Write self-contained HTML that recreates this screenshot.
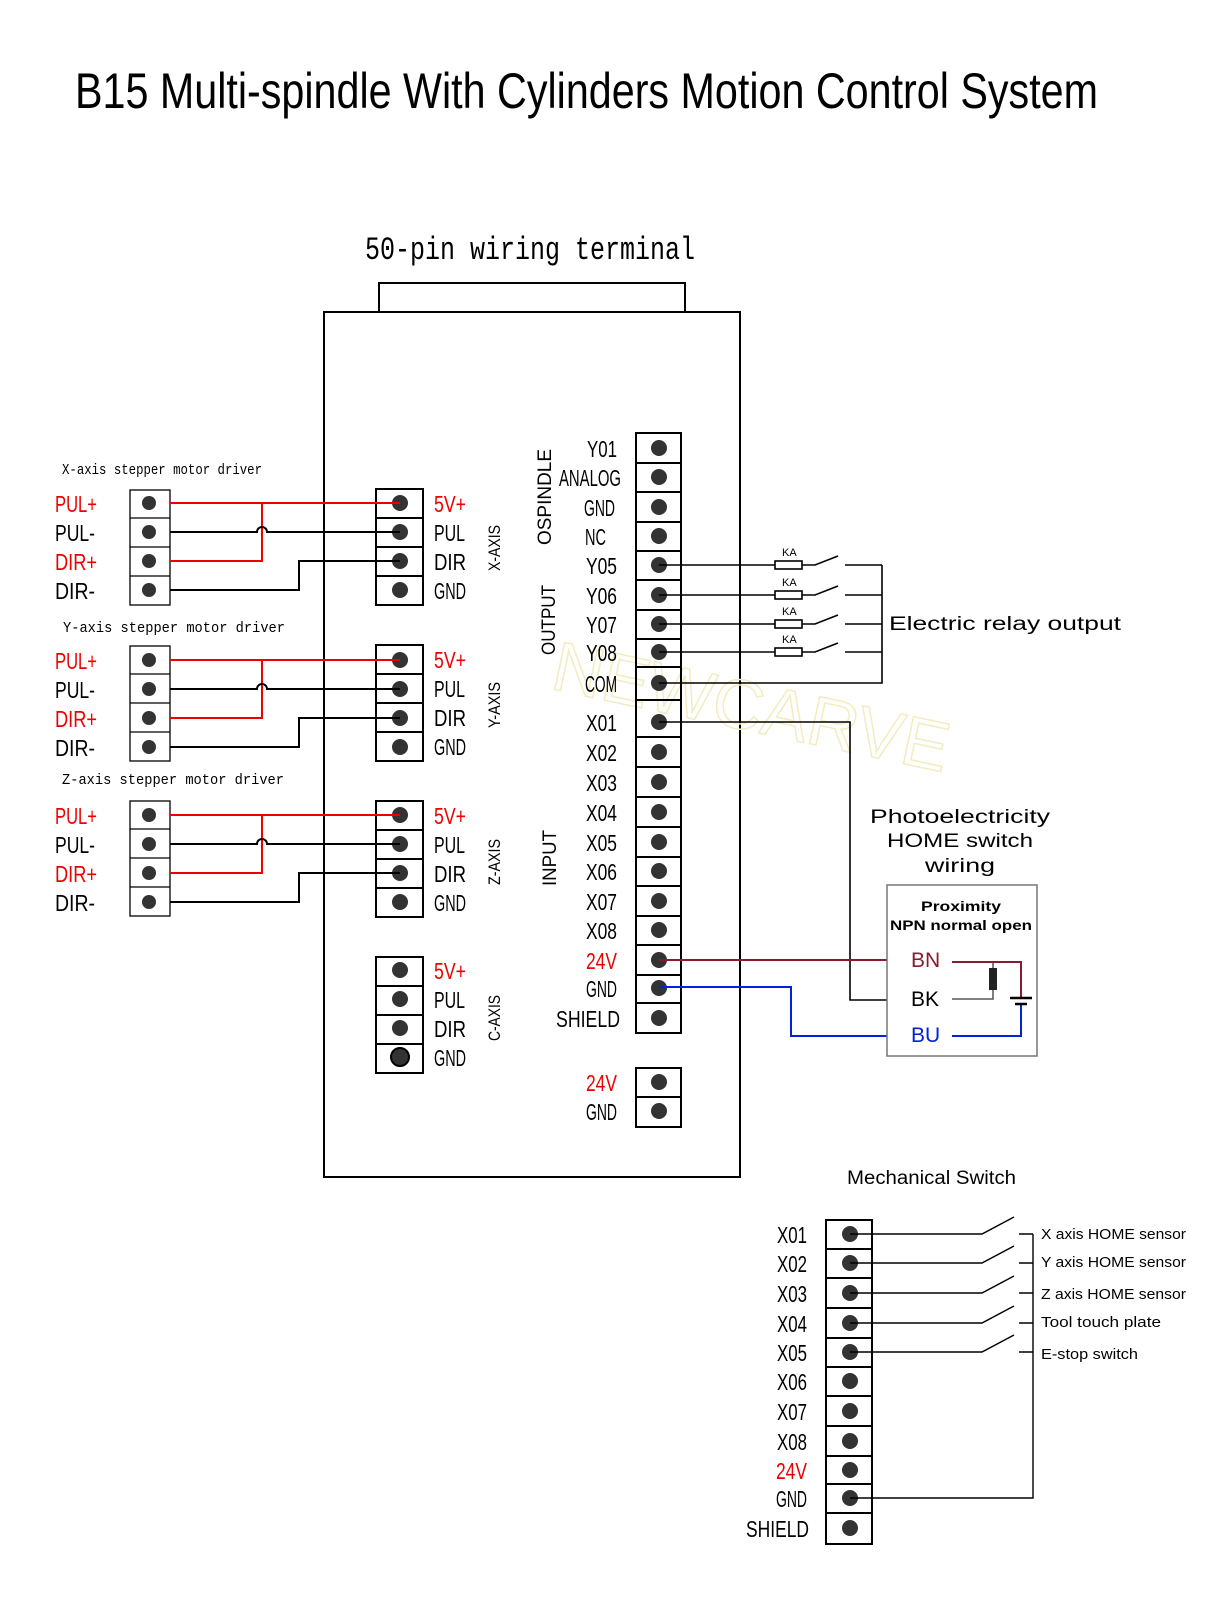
<!DOCTYPE html>
<html><head><meta charset="utf-8"><style>
html,body{margin:0;padding:0;background:#fff;}
svg{display:block;}
text{font-family:"Liberation Sans Narrow","Liberation Sans",sans-serif;}
.m{font-family:"Liberation Mono",monospace;}
.s{font-family:"Liberation Sans",sans-serif;}
</style></head><body>
<svg width="1219" height="1604" viewBox="0 0 1219 1604" xmlns="http://www.w3.org/2000/svg">
<text x="75" y="108" font-size="50" textLength="1023" lengthAdjust="spacingAndGlyphs" fill="#000">B15 Multi-spindle With Cylinders Motion Control System</text>
<text class="m" x="365" y="259" font-size="32" textLength="330" lengthAdjust="spacingAndGlyphs">50-pin wiring terminal</text>
<g fill="none" stroke="#000" stroke-width="2">
<rect x="379" y="283" width="306" height="29"/>
<rect x="324" y="312" width="416" height="865"/>
</g>
<text x="550" y="720" font-size="70" fill="none" stroke="#f3ecc0" stroke-width="1.5" transform="rotate(12 700 700)">NEWCARVE</text>

<text class="m" x="62" y="474" font-size="15" textLength="200" lengthAdjust="spacingAndGlyphs">X-axis stepper motor driver</text>
<text class="m" x="63" y="632" font-size="15" textLength="222" lengthAdjust="spacingAndGlyphs">Y-axis stepper motor driver</text>
<text class="m" x="62" y="784" font-size="15" textLength="222" lengthAdjust="spacingAndGlyphs">Z-axis stepper motor driver</text>
<g fill="none" stroke="#000" stroke-width="1.3">
<rect x="130" y="490" width="40" height="115"/><path d="M130 518H170M130 547H170M130 576H170"/>
<rect x="130" y="646" width="40" height="115"/><path d="M130 674H170M130 703H170M130 732H170"/>
<rect x="130" y="801" width="40" height="115"/><path d="M130 829H170M130 858H170M130 887H170"/>
</g>
<g fill="none" stroke="#000" stroke-width="2">
<rect x="376" y="489" width="47" height="116"/><path d="M376 518H423M376 547H423M376 576H423"/>
<rect x="376" y="645" width="47" height="116"/><path d="M376 674H423M376 703H423M376 732H423"/>
<rect x="376" y="801" width="47" height="116"/><path d="M376 830H423M376 859H423M376 888H423"/>
<rect x="376" y="957" width="47" height="116"/><path d="M376 986H423M376 1015H423M376 1044H423"/>
</g>
<g fill="#333">
<circle cx="149" cy="503" r="7"/><circle cx="149" cy="532" r="7"/><circle cx="149" cy="561" r="7"/><circle cx="149" cy="590" r="7"/>
<circle cx="149" cy="660" r="7"/><circle cx="149" cy="689" r="7"/><circle cx="149" cy="718" r="7"/><circle cx="149" cy="747" r="7"/>
<circle cx="149" cy="815" r="7"/><circle cx="149" cy="844" r="7"/><circle cx="149" cy="873" r="7"/><circle cx="149" cy="902" r="7"/>
<circle cx="400" cy="503" r="8"/><circle cx="400" cy="532" r="8"/><circle cx="400" cy="561" r="8"/><circle cx="400" cy="590" r="8"/>
<circle cx="400" cy="660" r="8"/><circle cx="400" cy="689" r="8"/><circle cx="400" cy="718" r="8"/><circle cx="400" cy="747" r="8"/>
<circle cx="400" cy="815" r="8"/><circle cx="400" cy="844" r="8"/><circle cx="400" cy="873" r="8"/><circle cx="400" cy="902" r="8"/>
<circle cx="400" cy="970" r="8"/><circle cx="400" cy="999" r="8"/><circle cx="400" cy="1028" r="8"/><circle cx="400" cy="1057" r="9" stroke="#000" stroke-width="2"/>
</g>
<g fill="none" stroke-width="2">
<g stroke="#e00">
<path d="M170 503H400M170 561H262V503"/>
<path d="M170 660H400M170 718H262V660"/>
<path d="M170 815H400M170 873H262V815"/>
</g>
<g stroke="#000">
<path d="M170 532H257A5 5 0 0 1 267 532H400M170 590H299V561H400"/>
<path d="M170 689H257A5 5 0 0 1 267 689H400M170 747H299V718H400"/>
<path d="M170 844H257A5 5 0 0 1 267 844H400M170 902H299V873H400"/>
</g>
</g>
<g font-size="23" lengthAdjust="spacingAndGlyphs">
<g fill="#e00">
<text x="55" y="512" textLength="42" lengthAdjust="spacingAndGlyphs">PUL+</text><text x="55" y="570" textLength="42" lengthAdjust="spacingAndGlyphs">DIR+</text>
<text x="55" y="669" textLength="42" lengthAdjust="spacingAndGlyphs">PUL+</text><text x="55" y="727" textLength="42" lengthAdjust="spacingAndGlyphs">DIR+</text>
<text x="55" y="824" textLength="42" lengthAdjust="spacingAndGlyphs">PUL+</text><text x="55" y="882" textLength="42" lengthAdjust="spacingAndGlyphs">DIR+</text>
</g>
<text x="55" y="541" textLength="40" lengthAdjust="spacingAndGlyphs">PUL-</text><text x="55" y="599" textLength="40" lengthAdjust="spacingAndGlyphs">DIR-</text>
<text x="55" y="698" textLength="40" lengthAdjust="spacingAndGlyphs">PUL-</text><text x="55" y="756" textLength="40" lengthAdjust="spacingAndGlyphs">DIR-</text>
<text x="55" y="853" textLength="40" lengthAdjust="spacingAndGlyphs">PUL-</text><text x="55" y="911" textLength="40" lengthAdjust="spacingAndGlyphs">DIR-</text>
<g fill="#e00">
<text x="434" y="512" textLength="32" lengthAdjust="spacingAndGlyphs">5V+</text><text x="434" y="668" textLength="32" lengthAdjust="spacingAndGlyphs">5V+</text>
<text x="434" y="824" textLength="32" lengthAdjust="spacingAndGlyphs">5V+</text><text x="434" y="979" textLength="32" lengthAdjust="spacingAndGlyphs">5V+</text>
</g>
<text x="434" y="541" textLength="31" lengthAdjust="spacingAndGlyphs">PUL</text><text x="434" y="570" textLength="32" lengthAdjust="spacingAndGlyphs">DIR</text><text x="434" y="599" textLength="32" lengthAdjust="spacingAndGlyphs">GND</text>
<text x="434" y="697" textLength="31" lengthAdjust="spacingAndGlyphs">PUL</text><text x="434" y="726" textLength="32" lengthAdjust="spacingAndGlyphs">DIR</text><text x="434" y="755" textLength="32" lengthAdjust="spacingAndGlyphs">GND</text>
<text x="434" y="853" textLength="31" lengthAdjust="spacingAndGlyphs">PUL</text><text x="434" y="882" textLength="32" lengthAdjust="spacingAndGlyphs">DIR</text><text x="434" y="911" textLength="32" lengthAdjust="spacingAndGlyphs">GND</text>
<text x="434" y="1008" textLength="31" lengthAdjust="spacingAndGlyphs">PUL</text><text x="434" y="1037" textLength="32" lengthAdjust="spacingAndGlyphs">DIR</text><text x="434" y="1066" textLength="32" lengthAdjust="spacingAndGlyphs">GND</text>
</g>
<g font-size="17">
<text transform="translate(500 548) rotate(-90)" text-anchor="middle" textLength="46" lengthAdjust="spacingAndGlyphs">X-AXIS</text>
<text transform="translate(500 705) rotate(-90)" text-anchor="middle" textLength="46" lengthAdjust="spacingAndGlyphs">Y-AXIS</text>
<text transform="translate(500 862) rotate(-90)" text-anchor="middle" textLength="46" lengthAdjust="spacingAndGlyphs">Z-AXIS</text>
<text transform="translate(500 1018) rotate(-90)" text-anchor="middle" textLength="46" lengthAdjust="spacingAndGlyphs">C-AXIS</text>
<text transform="translate(551 497) rotate(-90)" text-anchor="middle" font-size="19" textLength="96" lengthAdjust="spacingAndGlyphs">OSPINDLE</text>
<text transform="translate(555 620) rotate(-90)" text-anchor="middle" font-size="19" textLength="70" lengthAdjust="spacingAndGlyphs">OUTPUT</text>
<text transform="translate(556 858) rotate(-90)" text-anchor="middle" font-size="19" textLength="56" lengthAdjust="spacingAndGlyphs">INPUT</text>
</g>

<g fill="none" stroke="#000" stroke-width="2">
<rect x="636" y="433" width="45" height="600"/>
<path d="M636 463H681M636 492H681M636 522H681M636 551H681M636 580H681M636 610H681M636 639H681M636 667H681M636 700H681M636 737H681M636 767H681M636 797H681M636 827H681M636 857H681M636 886H681M636 916H681M636 945H681M636 975H681M636 1003H681"/>
<rect x="636" y="1068" width="45" height="59"/><path d="M636 1097H681"/>
</g>
<g fill="#333">
<circle cx="659" cy="448" r="8"/><circle cx="659" cy="477" r="8"/><circle cx="659" cy="507" r="8"/><circle cx="659" cy="536" r="8"/><circle cx="659" cy="565" r="8"/><circle cx="659" cy="595" r="8"/><circle cx="659" cy="624" r="8"/><circle cx="659" cy="652" r="8"/><circle cx="659" cy="683" r="8"/><circle cx="659" cy="722" r="8"/><circle cx="659" cy="752" r="8"/><circle cx="659" cy="782" r="8"/><circle cx="659" cy="812" r="8"/><circle cx="659" cy="842" r="8"/><circle cx="659" cy="871" r="8"/><circle cx="659" cy="901" r="8"/><circle cx="659" cy="930" r="8"/><circle cx="659" cy="960" r="8"/><circle cx="659" cy="988" r="8"/><circle cx="659" cy="1018" r="8"/><circle cx="659" cy="1082" r="8"/><circle cx="659" cy="1111" r="8"/>
</g>
<g font-size="23" text-anchor="end">
<text x="617" y="457" textLength="30" lengthAdjust="spacingAndGlyphs">Y01</text><text x="621" y="486" textLength="62" lengthAdjust="spacingAndGlyphs">ANALOG</text><text x="615" y="516" textLength="31" lengthAdjust="spacingAndGlyphs">GND</text><text x="606" y="545" textLength="21" lengthAdjust="spacingAndGlyphs">NC</text>
<text x="617" y="574" textLength="31" lengthAdjust="spacingAndGlyphs">Y05</text><text x="617" y="604" textLength="31" lengthAdjust="spacingAndGlyphs">Y06</text><text x="617" y="633" textLength="31" lengthAdjust="spacingAndGlyphs">Y07</text><text x="617" y="661" textLength="31" lengthAdjust="spacingAndGlyphs">Y08</text><text x="617" y="692" textLength="32" lengthAdjust="spacingAndGlyphs">COM</text>
<text x="617" y="731" textLength="31" lengthAdjust="spacingAndGlyphs">X01</text><text x="617" y="761" textLength="31" lengthAdjust="spacingAndGlyphs">X02</text><text x="617" y="791" textLength="31" lengthAdjust="spacingAndGlyphs">X03</text><text x="617" y="821" textLength="31" lengthAdjust="spacingAndGlyphs">X04</text><text x="617" y="851" textLength="31" lengthAdjust="spacingAndGlyphs">X05</text><text x="617" y="880" textLength="31" lengthAdjust="spacingAndGlyphs">X06</text><text x="617" y="910" textLength="31" lengthAdjust="spacingAndGlyphs">X07</text><text x="617" y="939" textLength="31" lengthAdjust="spacingAndGlyphs">X08</text>
<text x="617" y="969" fill="#e00" textLength="31" lengthAdjust="spacingAndGlyphs">24V</text><text x="617" y="997" textLength="31" lengthAdjust="spacingAndGlyphs">GND</text><text x="620" y="1027" textLength="64" lengthAdjust="spacingAndGlyphs">SHIELD</text>
<text x="617" y="1091" fill="#e00" textLength="31" lengthAdjust="spacingAndGlyphs">24V</text><text x="617" y="1120" textLength="31" lengthAdjust="spacingAndGlyphs">GND</text>
</g>

<g fill="none" stroke="#000" stroke-width="1.6">
<path d="M659 565H775M802 565H815L838 556M845 565H882"/>
<path d="M659 595H775M802 595H815L838 586M845 595H882"/>
<path d="M659 624H775M802 624H815L838 615M845 624H882"/>
<path d="M659 652H775M802 652H815L838 643M845 652H882"/>
<path d="M882 565V683H659"/>
<rect x="775" y="561" width="27" height="8"/><rect x="775" y="591" width="27" height="8"/><rect x="775" y="620" width="27" height="8"/><rect x="775" y="648" width="27" height="8"/>
<path d="M659 722H850V1000H887"/>
</g>
<g font-size="11"><text x="782" y="556">KA</text><text x="782" y="586">KA</text><text x="782" y="615">KA</text><text x="782" y="643">KA</text></g>
<text class="s" x="889" y="630" font-size="19" textLength="232" lengthAdjust="spacingAndGlyphs">Electric relay output</text>

<path d="M659 960H887" stroke="#8b1a2e" stroke-width="2" fill="none"/>
<path d="M659 987H791V1036H887" stroke="#0022dd" stroke-width="2" fill="none"/>
<g class="s" font-size="19" text-anchor="middle">
<text x="960" y="823" textLength="180" lengthAdjust="spacingAndGlyphs">Photoelectricity</text><text x="960" y="847" textLength="146" lengthAdjust="spacingAndGlyphs">HOME switch</text><text x="960" y="872" textLength="70" lengthAdjust="spacingAndGlyphs">wiring</text>
</g>
<rect x="887" y="885" width="150" height="171" fill="#fff" stroke="#777" stroke-width="1.5"/>
<g class="m" font-size="14" text-anchor="middle" font-weight="bold"><text x="961" y="911" textLength="80" lengthAdjust="spacingAndGlyphs">Proximity</text><text x="961" y="930" textLength="142" lengthAdjust="spacingAndGlyphs">NPN normal open</text></g>
<g class="s" font-size="21">
<text x="911" y="967" fill="#8b1a2e">BN</text><text x="911" y="1006">BK</text><text x="911" y="1042" fill="#0022dd">BU</text>
</g>
<path d="M952 999H993V962" stroke="#555" stroke-width="1.5" fill="none"/>
<path d="M952 962H1021V998" stroke="#8b1a2e" stroke-width="2" fill="none"/>
<path d="M952 1036H1021V1004" stroke="#0022dd" stroke-width="2" fill="none"/>
<rect x="989" y="968" width="8" height="22" fill="#222"/>
<path d="M1010 998H1032M1015 1004H1027" stroke="#000" stroke-width="2.5"/>

<text class="s" x="847" y="1184" font-size="19" textLength="169" lengthAdjust="spacingAndGlyphs">Mechanical Switch</text>
<g fill="none" stroke="#000" stroke-width="2">
<rect x="826" y="1220" width="46" height="324"/>
<path d="M826 1249H872M826 1278H872M826 1308H872M826 1338H872M826 1367H872M826 1396H872M826 1426H872M826 1456H872M826 1484H872M826 1513H872"/>
</g>
<g fill="#333">
<circle cx="850" cy="1234" r="8"/><circle cx="850" cy="1263" r="8"/><circle cx="850" cy="1293" r="8"/><circle cx="850" cy="1323" r="8"/><circle cx="850" cy="1352" r="8"/><circle cx="850" cy="1381" r="8"/><circle cx="850" cy="1411" r="8"/><circle cx="850" cy="1441" r="8"/><circle cx="850" cy="1470" r="8"/><circle cx="850" cy="1498" r="8"/><circle cx="850" cy="1528" r="8"/>
</g>
<g fill="none" stroke="#000" stroke-width="1.4">
<path d="M850 1234H982L1014 1217M1019 1234H1033"/>
<path d="M850 1263H982L1014 1246M1019 1263H1033"/>
<path d="M850 1293H982L1014 1276M1019 1293H1033"/>
<path d="M850 1323H982L1014 1306M1019 1323H1033"/>
<path d="M850 1352H982L1014 1335M1019 1352H1033"/>
<path d="M1033 1234V1498H850"/>
</g>
<g class="s" font-size="15">
<text x="1041" y="1239" textLength="145" lengthAdjust="spacingAndGlyphs">X axis HOME sensor</text><text x="1041" y="1267" textLength="145" lengthAdjust="spacingAndGlyphs">Y axis HOME sensor</text><text x="1041" y="1299" textLength="145" lengthAdjust="spacingAndGlyphs">Z axis HOME sensor</text><text x="1041" y="1327" textLength="120" lengthAdjust="spacingAndGlyphs">Tool touch plate</text><text x="1041" y="1359" textLength="97" lengthAdjust="spacingAndGlyphs">E-stop switch</text>
</g>
<g font-size="23" text-anchor="end">
<text x="807" y="1243" textLength="30" lengthAdjust="spacingAndGlyphs">X01</text><text x="807" y="1272" textLength="30" lengthAdjust="spacingAndGlyphs">X02</text><text x="807" y="1302" textLength="30" lengthAdjust="spacingAndGlyphs">X03</text><text x="807" y="1332" textLength="30" lengthAdjust="spacingAndGlyphs">X04</text><text x="807" y="1361" textLength="30" lengthAdjust="spacingAndGlyphs">X05</text><text x="807" y="1390" textLength="30" lengthAdjust="spacingAndGlyphs">X06</text><text x="807" y="1420" textLength="30" lengthAdjust="spacingAndGlyphs">X07</text><text x="807" y="1450" textLength="30" lengthAdjust="spacingAndGlyphs">X08</text><text x="807" y="1479" fill="#e00" textLength="31" lengthAdjust="spacingAndGlyphs">24V</text><text x="807" y="1507" textLength="31" lengthAdjust="spacingAndGlyphs">GND</text><text x="809" y="1537" textLength="63" lengthAdjust="spacingAndGlyphs">SHIELD</text>
</g>
</svg>
</body></html>
